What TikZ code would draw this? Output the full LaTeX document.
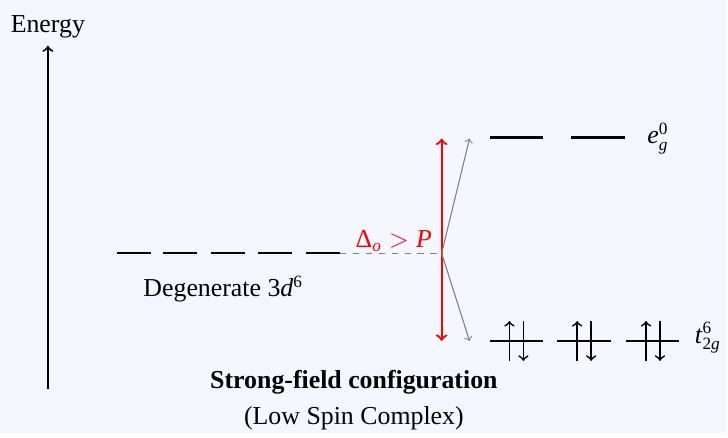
\documentclass[tikz,border=0pt]{standalone}
\usepackage{amsmath}
\usepackage{fontspec}
\setmainfont{Liberation Serif}
\definecolor{bgblue}{RGB}{244,248,254}
\newcommand{\ti}[1]{\textit{#1}}

\begin{document}
\begin{tikzpicture}[x=0.463pt,y=-0.463pt,font=\fontsize{12}{14}\selectfont,
  level/.style={line width=1pt},
  spin/.style={->,line width=0.8pt}]
  \fill[bgblue] (0,0) rectangle (728,434);
  % energy axis
  \node (energy) at (48,27) {Energy};
  \coordinate (axisbot) at (48,390);
  \draw[->,line width=0.9pt] (axisbot) -- (energy.south);
  % free ion: five degenerate d orbitals
  \draw[level] (117,254) -- (151,254);
  \draw[level] (164,254) -- (198,254);
  \draw[level] (212,254) -- (246,254);
  \draw[level] (259,254) -- (293,254);
  \draw[level] (307,254) coordinate (dend0) -- (341,254) coordinate (dend);
  \node (degen) at (224,290) {Degenerate 3\ti{d}$^{\text{6}}$};
  % splitting
  \coordinate (split) at (443,254);
  \coordinate (eg) at (471,139);
  \coordinate (tg) at (471,342);
  \draw[dashed,gray,line width=0.5pt] (dend) -- (split);
  \draw[<->,red,line width=1pt] (443,139) coordinate (dtop)
    -- (443,342) coordinate (dbot);
  \node[red] (delta) at (395,242)
    {$\text{Δ}_{\text{\ti{o}}} > \text{\ti{P}}$};
  \draw[->,gray,line width=0.5pt] (split) -- (eg);
  \draw[->,gray,line width=0.5pt] (split) -- (tg);
  % e_g set (empty)
  \draw[level] (492,138) -- (545,138);
  \draw[level] (573,138) -- (627,138);
  \node (eglabel) at (660,139) {\ti{e}$_{\ti{g}}^{\text{0}}$};
  % t_2g set (filled, paired)
  \draw[level] (492,342) -- (545,342);
  \draw[level] (559,342) -- (613,342);
  \draw[level] (628,342) -- (681,342);
  \draw[spin] (511,362) -- (511,322);
  \draw[spin] (525,322) -- (525,362);
  \draw[spin] (579,362) -- (579,322);
  \draw[spin] (593,322) -- (593,362);
  \draw[spin] (648,362) -- (648,322);
  \draw[spin] (662,322) -- (662,362);
  \node (tglabel) at (710,339) {\ti{t}$_{\text{2}\ti{g}}^{\text{6}}$};
  % caption
  \node[font=\fontsize{12}{14}\selectfont\bfseries] (title) at (355,383)
    {Strong-field configuration};
  \node (subtitle) at (355,420) {(Low Spin Complex)};
\end{tikzpicture}
\end{document}
